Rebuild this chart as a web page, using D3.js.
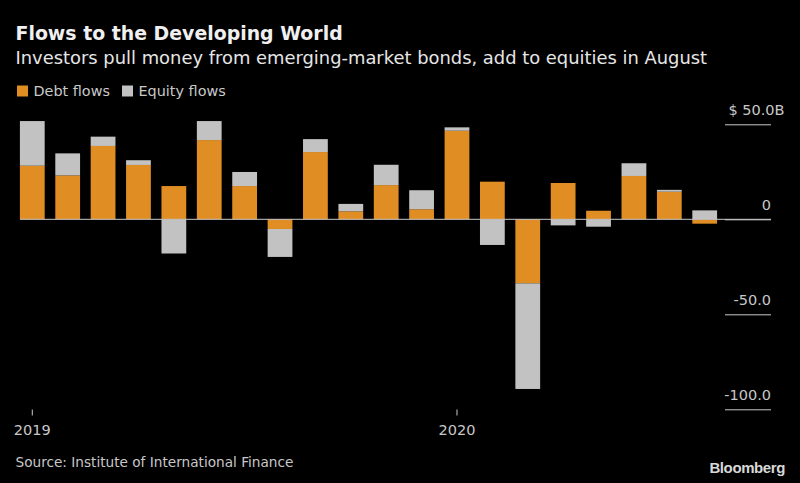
<!DOCTYPE html>
<html>

<head>
    <title>Flows to the Developing World</title>
    <meta charset="UTF-8">
    <script src="https://d3js.org/d3.v7.min.js"></script>
    <style type="text/css">
        html, body { margin: 0; padding: 0; background: #000; overflow: hidden; }
        text { font-family: "DejaVu Sans", sans-serif; }
    </style>
</head>

<body>
    <script type="text/javascript">
        // Values, $ billions per month
        var months = ["2019-01", "2019-02", "2019-03", "2019-04", "2019-05", "2019-06", "2019-07", "2019-08", "2019-09", "2019-10",
            "2019-11", "2019-12", "2020-01", "2020-02", "2020-03", "2020-04", "2020-05", "2020-06", "2020-07", "2020-08"];
        var debtFlows = [28.2, 23.1, 38.6, 28.6, 17.5, 41.7, 17.5, -5.1, 35.4, 4.2, 18, 5.3, 46.6, 19.8, -33.7, 19.1, 4.5, 22.8, 14.5, -2.3];
        var equityFlows = [23.5, 11.6, 4.9, 2.5, -18, 10, 7.4, -14.7, 6.8, 3.9, 10.7, 10, 1.8, -13.5, -55.6, -3.2, -3.9, 6.7, 1, 4.7];
        var yTicks = [50, 0, -50, -100];
        var yearTicks = ["2019-01", "2020-01"];
        var seriesNames = ["Debt flows", "Equity flows"];
        var seriesColors = ["#e08e24", "#c2c2c2"];

        var width = 800, height = 483;
        var textColor = "#c8c8c8";

        var svg = d3.select("body")
            .append("svg")
            .attr("width", width)
            .attr("height", height)
            .style("display", "block");

        // Scales
        var x = d3.scaleBand().domain(months).range([14.6, 722.4]).paddingInner(0.3).paddingOuter(0.15);
        var y = d3.scaleLinear().domain([50, -100]).range([124.3, 409.3]);

        // Stack debt then equity, negatives grow downwards
        var table = months.map(function (m, i) {
            return { month: m, debt: debtFlows[i], equity: equityFlows[i] };
        });
        var stacked = d3.stack()
            .keys(["debt", "equity"])
            .offset(d3.stackOffsetDiverging)(table);

        svg.selectAll("g.series")
            .data(stacked)
            .enter().append("g")
            .attr("class", "series")
            .attr("fill", function (d, i) { return seriesColors[i]; })
            .selectAll("rect")
            .data(function (d) { return d; })
            .enter().append("rect")
            .attr("x", function (d) { return x(d.data.month); })
            .attr("width", x.bandwidth())
            .attr("y", function (d) { return y(Math.max(d[0], d[1])); })
            .attr("height", function (d) { return Math.abs(y(d[0]) - y(d[1])); });

        // Zero line
        svg.append("line")
            .attr("x1", 20).attr("x2", 771)
            .attr("y1", y(0)).attr("y2", y(0))
            .attr("stroke", "#c8c8c8").attr("stroke-width", 1);

        // Y axis, ticks sit under the labels
        var yAxis = d3.axisRight(y)
            .tickValues(yTicks)
            .tickSize(46)
            .tickFormat(function (d) {
                return d === 0 ? "0" : d.toFixed(1);
            });
        var yGroup = svg.append("g")
            .attr("transform", "translate(725,0)")
            .call(yAxis);
        yGroup.select(".domain").remove();
        yGroup.selectAll("line").attr("stroke", "#c8c8c8");
        yGroup.selectAll("text")
            .attr("x", 46).attr("y", -9.5).attr("dy", 0)
            .attr("text-anchor", "end")
            .attr("fill", textColor)
            .style("font-size", "14.5px");
        yGroup.selectAll("text")
            .filter(function (d) { return d === 50; })
            .attr("x", 59.5)
            .text("$ 50.0B");

        // X axis, only the years are labelled
        var xAxis = d3.axisBottom(x)
            .tickValues(yearTicks)
            .tickSize(6)
            .tickFormat(function (d) { return d.slice(0, 4); });
        var xGroup = svg.append("g")
            .attr("transform", "translate(0,409.5)")
            .call(xAxis);
        xGroup.select(".domain").remove();
        xGroup.selectAll("line").attr("stroke", "#c8c8c8");
        xGroup.selectAll("text")
            .attr("y", 15).attr("dy", "0.71em")
            .attr("fill", textColor)
            .style("font-size", "14.5px");

        // Title and subtitle
        svg.append("text")
            .attr("x", 15.5).attr("y", 40)
            .attr("fill", "#f0f0f0")
            .style("font-size", "18.9px")
            .style("font-weight", "bold")
            .text("Flows to the Developing World");

        svg.append("text")
            .attr("x", 15.5).attr("y", 63.5)
            .attr("fill", "#e6e6e6")
            .style("font-size", "17.9px")
            .text("Investors pull money from emerging-market bonds, add to equities in August");

        // Legend
        var legendX = [17, 122];
        seriesNames.forEach(function (name, i) {
            svg.append("rect")
                .attr("x", legendX[i]).attr("y", 85.5)
                .attr("width", 11).attr("height", 11)
                .attr("fill", seriesColors[i]);
            svg.append("text")
                .attr("x", legendX[i] + 16.5).attr("y", 96)
                .attr("fill", textColor)
                .style("font-size", "14.4px")
                .text(name);
        });

        // Source and logo
        svg.append("text")
            .attr("x", 15.5).attr("y", 467)
            .attr("fill", textColor)
            .style("font-size", "13.65px")
            .text("Source: Institute of International Finance");

        svg.append("text")
            .attr("x", 785).attr("y", 473)
            .attr("text-anchor", "end")
            .attr("fill", "#d8d8d8")
            .style("font-family", "'Liberation Sans', sans-serif")
            .style("font-size", "15px")
            .style("font-weight", "bold")
            .style("letter-spacing", "-0.4px")
            .text("Bloomberg");
    </script>
</body>

</html>
